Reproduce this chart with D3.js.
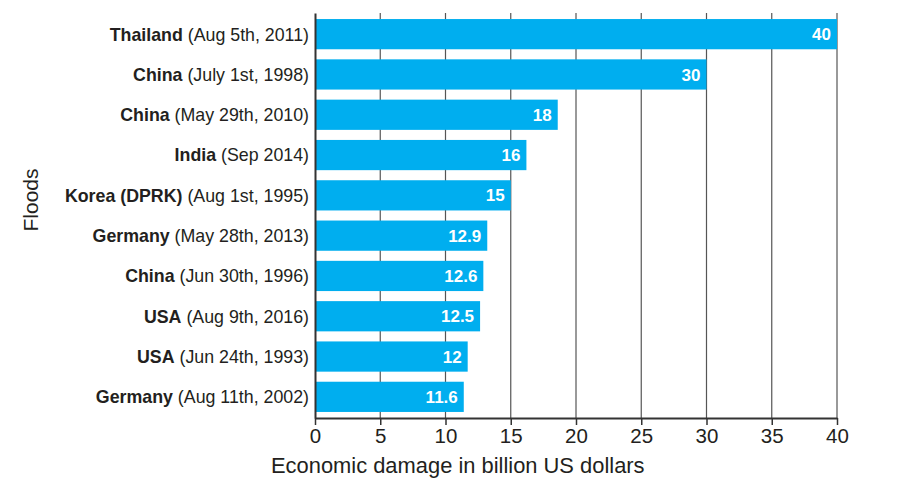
<!DOCTYPE html>
<html><head><meta charset="utf-8">
<script src="https://cdn.jsdelivr.net/npm/d3@7"></script>
<style>body{margin:0;background:#fff}</style>
</head><body>
<svg id="chart" width="904" height="487"></svg>
<script>
const countries = ["Thailand","China","China","India","Korea (DPRK)","Germany","China","USA","USA","Germany"];
const dates = ["(Aug 5th, 2011)","(July 1st, 1998)","(May 29th, 2010)","(Sep 2014)","(Aug 1st, 1995)","(May 28th, 2013)","(Jun 30th, 1996)","(Aug 9th, 2016)","(Jun 24th, 1993)","(Aug 11th, 2002)"];
// bar lengths as drawn in the picture (billion US$)
const damage = [40,30,18.6,16.2,15,13.2,12.9,12.65,11.7,11.4];
// value labels printed on the bars
const valueLabels = ["40","30","18","16","15","12.9","12.6","12.5","12","11.6"];
const xTicks = [0,5,10,15,20,25,30,35,40];

(function(){
const svg = d3.select("#chart");
const font = "'Liberation Sans', Arial, Helvetica, sans-serif";
const textColor = "#231f20";
const mLeft = 315, mRight = 837, mTop = 13, mBottom = 418;
const idx = d3.range(damage.length);
const x = d3.scaleLinear().domain([0,40]).range([mLeft,mRight]);
const y = d3.scaleBand().domain(idx).range([mTop,mBottom]).paddingInner(0.25).paddingOuter(0.15);

// grid
svg.append("g").selectAll("line").data(xTicks.filter(d=>d>0)).join("line")
  .attr("x1",d=>x(d)).attr("x2",d=>x(d)).attr("y1",mTop).attr("y2",mBottom)
  .attr("stroke","#555").attr("stroke-width",1.2);

// bars
svg.append("g").selectAll("rect").data(idx).join("rect")
  .attr("x",x(0)).attr("y",i=>y(i)).attr("width",i=>x(damage[i])-x(0)).attr("height",y.bandwidth())
  .attr("fill","#00aeef");

// value labels
svg.append("g").selectAll("text").data(idx).join("text")
  .attr("x",i=>x(damage[i])-6).attr("y",i=>y(i)+y.bandwidth()/2).attr("dy","0.36em")
  .attr("text-anchor","end").attr("fill","#fff").attr("font-family",font)
  .attr("font-weight","bold").attr("font-size",17).text(i=>valueLabels[i]);

// x axis
const xAxis = d3.axisBottom(x).tickValues(xTicks).tickSize(7).tickPadding(3).tickSizeOuter(0);
const gx = svg.append("g").attr("transform",`translate(0,${mBottom})`).call(xAxis);
gx.select(".domain").attr("stroke","#333").attr("stroke-width",2);
gx.selectAll(".tick line").attr("stroke","#333").attr("stroke-width",1.5);
gx.selectAll(".tick text").attr("font-family",font).attr("font-size",20.5).attr("fill",textColor);

// y axis line
const yAxis = d3.axisLeft(y).tickSize(0).tickFormat("").tickSizeOuter(0);
const gy = svg.append("g").attr("transform",`translate(${mLeft},0)`).call(yAxis);
gy.select(".domain").attr("stroke","#333").attr("stroke-width",2);

// category labels
const lab = svg.append("g").selectAll("text").data(idx).join("text")
  .attr("x",mLeft-6).attr("y",i=>y(i)+y.bandwidth()/2).attr("dy","0.36em")
  .attr("text-anchor","end").attr("font-family",font).attr("font-size",17.8).attr("fill",textColor);
lab.append("tspan").attr("font-weight","bold").text(i=>countries[i]);
lab.append("tspan").text(i=>" "+dates[i]);

// axis titles
svg.append("text").attr("x",271).attr("y",473).attr("font-family",font).attr("font-size",21.9)
  .attr("fill",textColor).text("Economic damage in billion US dollars");
svg.append("text").attr("transform","translate(38,200) rotate(-90)").attr("text-anchor","middle")
  .attr("font-family",font).attr("font-size",21).attr("fill",textColor).text("Floods");
})();
</script>
</body></html>
